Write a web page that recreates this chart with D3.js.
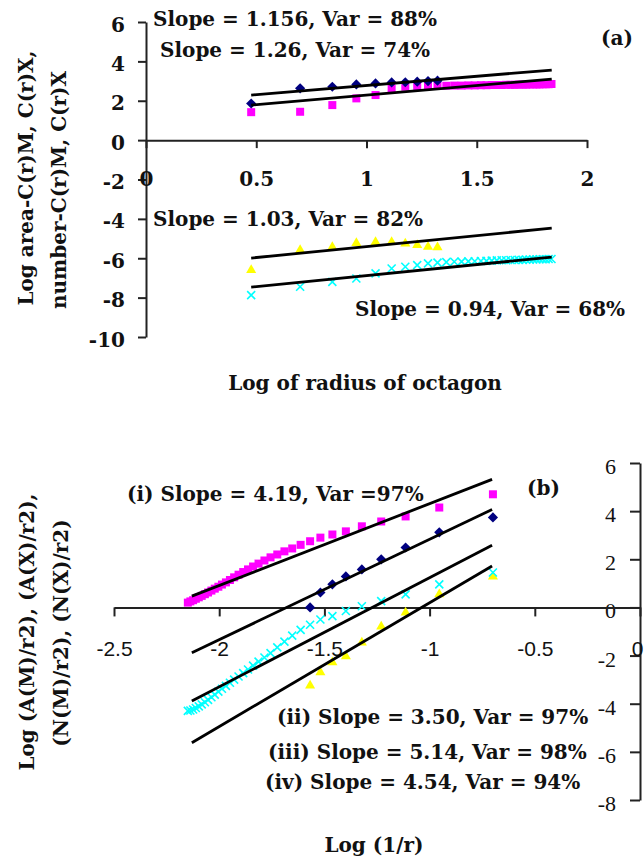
<!DOCTYPE html>
<html>
<head>
<meta charset="utf-8">
<script src="https://cdn.jsdelivr.net/npm/d3@7"></script>
<style>
  body { margin: 0; background: #fff; }
  svg text { fill: #111; }
</style>
</head>
<body>
<svg id="chart"></svg>
<script>
// ---- panel (a): log of radius of octagon ----
const xA = [0.477, 0.699, 0.845, 0.954, 1.041, 1.114, 1.176, 1.230, 1.279, 1.322, 1.362, 1.398,
  1.431, 1.462, 1.491, 1.519, 1.544, 1.568, 1.591, 1.613, 1.633, 1.653, 1.672, 1.690, 1.708,
  1.724, 1.740, 1.756, 1.771, 1.785, 1.799, 1.813, 1.826, 1.839];
const diamondA = [1.86, 2.63, 2.71, 2.83, 2.88, 2.93, 2.94, 2.97, 3.0, 3.02];
const squareA = [1.42, 1.44, 1.78, 2.12, 2.29, 2.62, 2.71, 2.74, 2.75, 2.76, 2.76, 2.77, 2.77,
  2.78, 2.78, 2.79, 2.79, 2.8, 2.8, 2.8, 2.81, 2.81, 2.81, 2.82, 2.82, 2.82, 2.83, 2.83, 2.83,
  2.83, 2.84, 2.84, 2.84, 2.85];
const triangleA = [-6.6, -5.59, -5.43, -5.23, -5.18, -5.18, -5.25, -5.33, -5.42, -5.45];
const crossA = [-7.87, -7.45, -7.2, -7.03, -6.77, -6.52, -6.43, -6.35, -6.26, -6.22, -6.2, -6.18,
  -6.17, -6.16, -6.15, -6.14, -6.13, -6.12, -6.11, -6.1, -6.1, -6.09, -6.09, -6.08, -6.08,
  -6.07, -6.07, -6.06, -6.06, -6.05, -6.05, -6.05, -6.04, -6.04];
// trend lines (start, end)
const fitXA = [0.477, 1.84];
const fitDiamondA = [2.29, 3.56];
const fitSquareA = [1.78, 3.10];
const fitTriangleA = [-5.99, -4.47];
const fitCrossA = [-7.47, -5.94];
const xTicksA = [0, 0.5, 1, 1.5, 2];
const yTicksA = [6, 4, 2, 0, -2, -4, -6, -8, -10];

// ---- panel (b): log (1/r) ----
const xB = [-0.699, -0.954, -1.114, -1.230, -1.322, -1.398, -1.462, -1.519, -1.568, -1.613,
  -1.653, -1.690, -1.724, -1.756, -1.785, -1.813, -1.839, -1.863, -1.886, -1.908, -1.929,
  -1.949, -1.968, -1.987, -2.004, -2.021, -2.037, -2.053, -2.068, -2.083, -2.097, -2.111,
  -2.124, -2.137, -2.149];
const squareB = [4.7, 4.15, 3.78, 3.57, 3.37, 3.16, 3.03, 2.9, 2.75, 2.6, 2.45, 2.33, 2.2, 2.08,
  1.95, 1.82, 1.7, 1.58, 1.47, 1.36, 1.25, 1.14, 1.04, 0.95, 0.86, 0.78, 0.7, 0.62, 0.55, 0.48,
  0.42, 0.36, 0.3, 0.25, 0.2];
const diamondB = [3.74, 3.12, 2.49, 2.0, 1.58, 1.29, 0.96, 0.62, 0.0];
const crossB = [1.45, 0.96, 0.54, 0.26, 0.05, -0.15, -0.36, -0.5, -0.72, -0.93, -1.17, -1.42,
  -1.66, -1.9, -2.08, -2.25, -2.42, -2.58, -2.73, -2.87, -3.0, -3.13, -3.26, -3.38, -3.5, -3.62,
  -3.73, -3.84, -3.94, -4.03, -4.11, -4.18, -4.24, -4.28, -4.3];
const triangleB = [1.28, 0.54, -0.21, -0.8, -1.46, -2.03, -2.28, -2.7, -3.25];
const fitXB = [-2.13, -0.703];
const fitI = [0.47, 5.32];
const fitII = [-1.88, 4.07];
const fitIII = [-3.89, 2.58];
const fitIV = [-5.62, 1.72];
const xTicksB = [-2.5, -2, -1.5, -1, -0.5, 0];
const yTicksB = [6, 4, 2, 0, -2, -4, -6, -8];

const serifB = "'DejaVu Serif', serif";
const W = 644, H = 865;
const svg = d3.select("#chart").attr("width", W).attr("height", H);

const marker = {
  diamond: { path: d3.symbol(d3.symbolSquare, 52)(), fill: "#000080", rot: 45 },
  square: { path: d3.symbol(d3.symbolSquare, 64)(), fill: "#FF00FF", rot: 0 },
  triangle: { path: d3.symbol(d3.symbolTriangle, 44)(), fill: "#FFFF00", rot: 0 },
  cross: { path: "M-4,-4L4,4M-4,4L4,-4", stroke: "#00FFFF", rot: 0 }
};

function drawSeries(g, xs, ys, x, y, type) {
  const m = marker[type];
  g.append("g").selectAll("path")
    .data(ys)
    .join("path")
    .attr("d", m.path)
    .attr("transform", (d, i) => `translate(${x(xs[i])},${y(d)}) rotate(${m.rot})`)
    .attr("fill", m.fill || "none")
    .attr("stroke", m.stroke || "none")
    .attr("stroke-width", 1.6);
}

function drawFit(g, xs, ys, x, y) {
  const line = d3.line().x(d => x(d[0])).y(d => y(d[1]));
  g.append("path")
    .attr("d", line(d3.zip(xs, ys)))
    .attr("fill", "none")
    .attr("stroke", "#000")
    .attr("stroke-width", 2.8);
}

function styleAxis(g, family, size, weight) {
  g.attr("font-family", family).attr("font-size", size).attr("font-weight", weight);
  g.selectAll("path, line").attr("stroke", "#222").attr("stroke-width", 2);
  g.selectAll("text").attr("fill", "#111");
}

function label(txt, x, y, opts) {
  opts = opts || {};
  svg.append("text")
    .attr("x", x).attr("y", y)
    .attr("font-family", opts.family || serifB)
    .attr("font-size", opts.size || 20)
    .attr("font-weight", opts.weight || "bold")
    .attr("text-anchor", opts.anchor || "start")
    .text(txt);
}

function rotLabel(txt, x, y) {
  svg.append("text")
    .attr("transform", `translate(${x},${y}) rotate(-90)`)
    .attr("font-family", serifB)
    .attr("font-size", 20)
    .attr("font-weight", "bold")
    .attr("text-anchor", "middle")
    .text(txt);
}

// ================= panel (a) =================
const xa = d3.scaleLinear().domain([0, 2]).range([146, 587]);
const ya = d3.scaleLinear().domain([-10, 6]).range([337, 22]);
const ga = svg.append("g");

ga.append("g")
  .attr("transform", `translate(${xa(0)},0)`)
  .call(d3.axisLeft(ya).tickValues(yTicksA).tickFormat(d => String(d))
    .tickSize(8).tickSizeOuter(0).tickPadding(13))
  .call(g => styleAxis(g, serifB, 20, "bold"))
  .call(g => g.selectAll("text").attr("dy", "0.45em"));

ga.append("g")
  .attr("transform", `translate(0,${ya(0)})`)
  .call(d3.axisBottom(xa).tickValues(xTicksA).tickFormat(d => String(d))
    .tickSize(8).tickSizeOuter(0).tickPadding(24))
  .call(g => styleAxis(g, serifB, 20, "bold"));

drawSeries(ga, xA, squareA, xa, ya, "square");
drawSeries(ga, xA, diamondA, xa, ya, "diamond");
drawSeries(ga, xA, triangleA, xa, ya, "triangle");
drawSeries(ga, xA, crossA, xa, ya, "cross");
drawFit(ga, fitXA, fitDiamondA, xa, ya);
drawFit(ga, fitXA, fitSquareA, xa, ya);
drawFit(ga, fitXA, fitTriangleA, xa, ya);
drawFit(ga, fitXA, fitCrossA, xa, ya);

label("Slope = 1.156, Var = 88%", 153, 26);
label("Slope = 1.26, Var = 74%", 160, 57);
label("(a)", 601, 45);
label("Slope = 1.03, Var = 82%", 153, 226);
label("Slope = 0.94, Var = 68%", 355, 316);
label("Log of radius of octagon", 365, 390, { anchor: "middle" });
rotLabel("Log area-C(r)M, C(r)X,", 33, 178);
rotLabel("number-C(r)M, C(r)X", 66, 190);

// ================= panel (b) =================
const xb = d3.scaleLinear().domain([-2.5, 0]).range([114, 640]);
const yb = d3.scaleLinear().domain([-8, 6]).range([800, 463]);
const gb = svg.append("g");

gb.append("g")
  .attr("transform", `translate(${xb(0)},0)`)
  .call(d3.axisLeft(yb).tickValues(yTicksB).tickFormat(d => String(d))
    .tickSize(10).tickSizeOuter(0).tickPadding(14))
  .call(g => styleAxis(g, "'Liberation Serif', serif", 22, "normal"))
  .call(g => g.selectAll("text").attr("dy", "0.48em"));

gb.append("g")
  .attr("transform", `translate(0,${yb(0)})`)
  .call(d3.axisBottom(xb).tickValues(xTicksB).tickFormat(d => String(d))
    .tickSize(9).tickSizeOuter(0).tickPadding(25))
  .call(g => styleAxis(g, "'Liberation Sans', Arial, sans-serif", 21, "normal"))
  // the last label sits at the window edge, keep it inside
  .call(g => g.selectAll(".tick").filter(d => d === 0).select("text")
    .attr("text-anchor", "end").attr("x", 3));

drawSeries(gb, xB, squareB, xb, yb, "square");
drawSeries(gb, xB, diamondB, xb, yb, "diamond");
drawSeries(gb, xB, triangleB, xb, yb, "triangle");
drawSeries(gb, xB, crossB, xb, yb, "cross");
drawFit(gb, fitXB, fitI, xb, yb);
drawFit(gb, fitXB, fitII, xb, yb);
drawFit(gb, fitXB, fitIII, xb, yb);
drawFit(gb, fitXB, fitIV, xb, yb);

label("(i) Slope = 4.19, Var =97%", 127, 501);
label("(b)", 527, 495);
label("(ii) Slope = 3.50, Var = 97%", 277, 724);
label("(iii) Slope = 5.14, Var = 98%", 268, 759);
label("(iv) Slope = 4.54, Var = 94%", 265, 789);
label("Log (1/r)", 374, 852, { anchor: "middle" });
rotLabel("Log (A(M)/r2), (A(X)/r2),", 34, 632);
rotLabel("(N(M)/r2), (N(X)/r2)", 68, 633);
</script>
</body>
</html>
